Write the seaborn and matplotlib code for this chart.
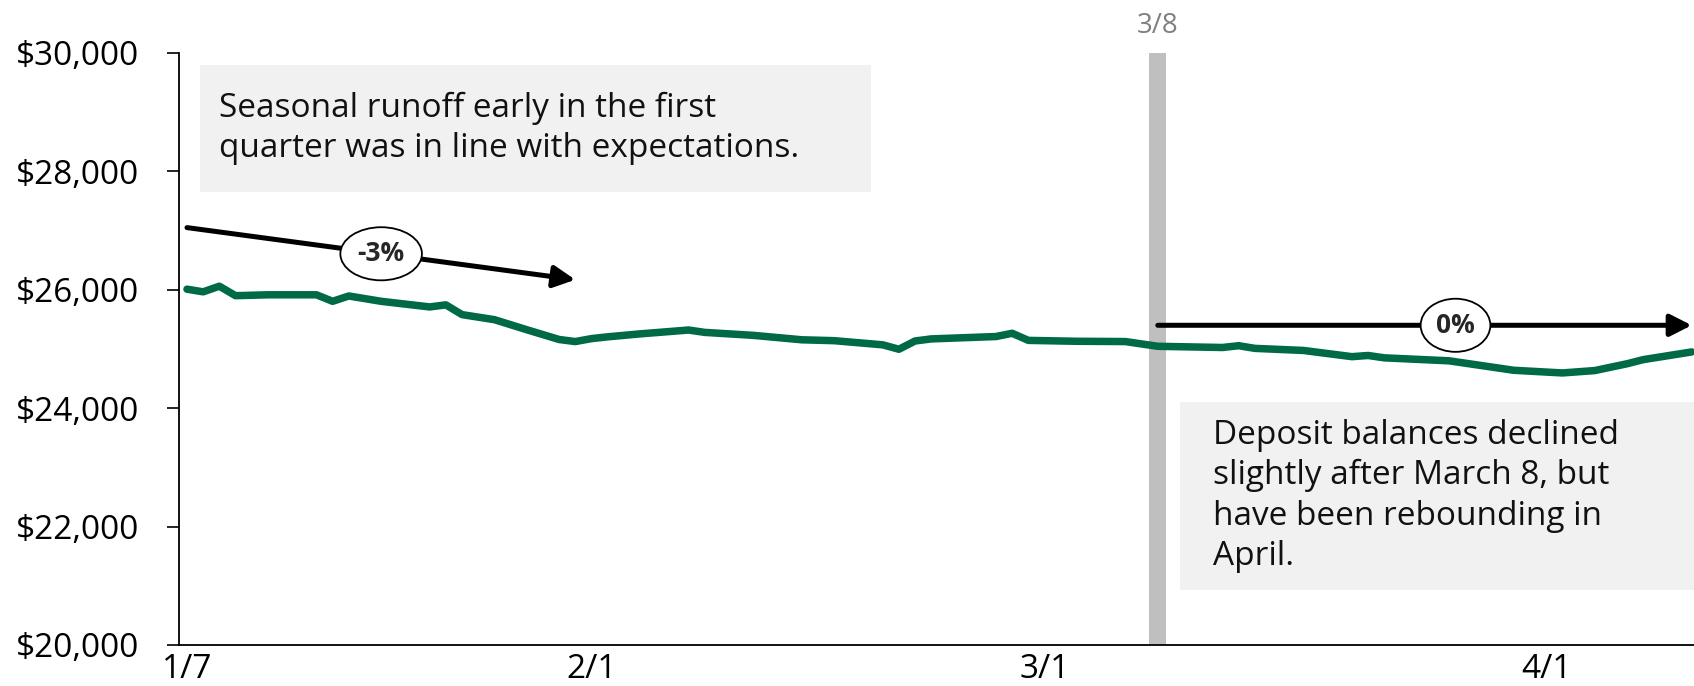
import matplotlib
matplotlib.use("Agg")
import matplotlib.pyplot as plt
import numpy as np
import pandas as pd
import seaborn as sns
from matplotlib.patches import Rectangle
from matplotlib.ticker import FuncFormatter, FixedLocator

# ---- data -------------------------------------------------------------
dates = [
    "2023-01-07", "2023-01-08", "2023-01-09", "2023-01-10", "2023-01-12",
    "2023-01-15", "2023-01-16", "2023-01-17", "2023-01-19", "2023-01-22",
    "2023-01-23", "2023-01-24", "2023-01-26", "2023-01-28", "2023-01-30",
    "2023-01-31", "2023-02-01", "2023-02-02", "2023-02-04", "2023-02-07",
    "2023-02-08", "2023-02-11", "2023-02-14", "2023-02-16", "2023-02-19",
    "2023-02-20", "2023-02-21", "2023-02-22", "2023-02-26", "2023-02-27",
    "2023-02-28", "2023-03-03", "2023-03-06", "2023-03-08", "2023-03-12",
    "2023-03-13", "2023-03-14", "2023-03-17", "2023-03-20", "2023-03-21",
    "2023-03-22", "2023-03-26", "2023-03-30", "2023-04-02", "2023-04-04",
    "2023-04-06", "2023-04-07", "2023-04-10",
]
balances = [
    26010, 25965, 26060, 25900, 25915,
    25915, 25805, 25895, 25805, 25710,
    25745, 25580, 25495, 25325, 25160,
    25125, 25175, 25205, 25255, 25320,
    25280, 25230, 25155, 25140, 25070,
    24995, 25135, 25170, 25210, 25265,
    25145, 25130, 25125, 25045, 25025,
    25055, 25010, 24975, 24870, 24890,
    24850, 24800, 24640, 24595, 24635,
    24750, 24820, 24950,
]

tick_dates = ["2023-01-07", "2023-02-01", "2023-03-01", "2023-04-01"]
tick_labels = ["1/7", "2/1", "3/1", "4/1"]
y_ticks = [20000, 22000, 24000, 26000, 28000, 30000]

event_date = "2023-03-08"
event_label = "3/8"

# trend arrows: (start date, start value, end date, end value, label)
q1_trend = ("2023-01-07", 27050, "2023-01-31", 26170, "-3%")
post_trend = ("2023-03-08", 25400, "2023-04-10", 25400, "0%")

note_q1 = "Seasonal runoff early in the first\nquarter was in line with expectations."
note_post = ("Deposit balances declined\nslightly after March 8, but\n"
             "have been rebounding in\nApril.")

# ---- style ------------------------------------------------------------
sns.set_theme(style="ticks")
plt.rcParams["font.family"] = ["Open Sans", "DejaVu Sans"]

GREEN = "#006a47"
BAND = "#bfbfbf"
BOX = "#f1f1f1"
TXT = 24

df = pd.DataFrame({"date": pd.to_datetime(dates), "balance": balances})

fig = plt.figure(figsize=(16.94, 6.86), dpi=100)
ax = fig.add_axes([0.1057, 0.0598, 0.8943, 0.8630])

start = pd.Timestamp("2023-01-07")
day = pd.Timedelta(days=1)

# event band
ev = pd.Timestamp(event_date)
ax.axvspan(ev - 0.52 * day, ev + 0.52 * day, color=BAND, lw=0, zorder=1)
ax.text(ev, 1.046, event_label, transform=ax.get_xaxis_transform(),
        ha="center", va="center", fontsize=20, color="#808080")

# balance line
sns.lineplot(data=df, x="date", y="balance", color=GREEN, lw=5.4,
             ax=ax, zorder=3)

# annotation boxes
ax.add_patch(Rectangle((0.0139, 0.7652), 0.4429, 0.2145, transform=ax.transAxes,
                       fc=BOX, ec="none", zorder=2))
ax.text(0.0264, 0.8725, note_q1, transform=ax.transAxes, ha="left",
        va="center", fontsize=TXT, color="#111111", linespacing=1.28, zorder=4)

ax.add_patch(Rectangle((0.6607, 0.0929), 0.40, 0.3176, transform=ax.transAxes,
                       fc=BOX, ec="none", zorder=2, clip_on=False))
ax.text(0.6825, 0.2517, note_post, transform=ax.transAxes, ha="left",
        va="center", fontsize=TXT, color="#111111", linespacing=1.3, zorder=4)

# trend arrows with percentage badges
for (d0, v0, d1, v1, lab) in (q1_trend, post_trend):
    t0, t1 = pd.Timestamp(d0), pd.Timestamp(d1)
    ax.annotate("", xy=(t1, v1), xytext=(t0, v0),
                arrowprops=dict(arrowstyle="-|>,head_length=0.65,head_width=0.33",
                                lw=3.6, color="black", shrinkA=0, shrinkB=0,
                                mutation_scale=20),
                zorder=5, annotation_clip=False)

ax.text(start + 12 * day, 26608, q1_trend[4], ha="center", va="center",
        fontsize=19, fontweight="bold", zorder=6,
        bbox=dict(boxstyle="ellipse,pad=0.2", fc="white", ec="black", lw=1.3))
ax.text(start + 78.4 * day, 25400, post_trend[4], ha="center", va="center",
        fontsize=19, fontweight="bold", zorder=6,
        bbox=dict(boxstyle="ellipse,pad=0.2", fc="white", ec="black", lw=1.3))

# axes
ax.set_xlim(start - 0.49 * day, start + 93.14 * day)
ax.set_ylim(20000, 30000)
ax.xaxis.set_major_locator(FixedLocator(
    [matplotlib.dates.date2num(pd.Timestamp(t)) for t in tick_dates]))
ax.set_xticklabels(tick_labels)
ax.yaxis.set_major_locator(FixedLocator(y_ticks))
ax.yaxis.set_major_formatter(FuncFormatter(lambda v, _: f"${v:,.0f}"))
ax.set_xlabel("")
ax.set_ylabel("")

for side in ("top", "right"):
    ax.spines[side].set_visible(False)
for side in ("left", "bottom"):
    ax.spines[side].set_color("black")
    ax.spines[side].set_linewidth(1.3)

ax.tick_params(axis="y", length=9, width=1.2, pad=20, labelsize=TXT,
               colors="black")
ax.tick_params(axis="x", length=0, pad=6, labelsize=TXT, colors="black")

fig.savefig("out.png", dpi=100)
